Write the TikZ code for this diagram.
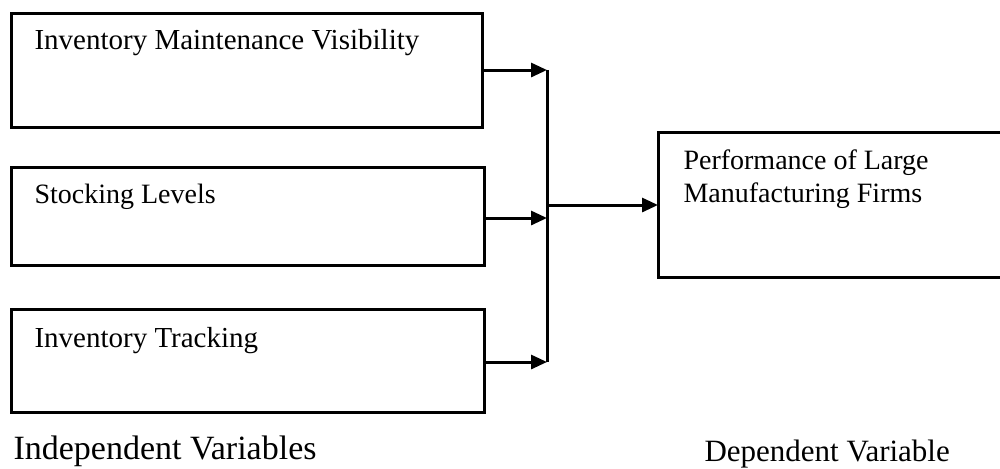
\documentclass[tikz,border=0pt]{standalone}
\usepackage{fontspec}
\setmainfont{Liberation Serif}
\usetikzlibrary{arrows.meta}
\begin{document}
\begin{tikzpicture}[x=0.5pt, y=-0.5pt, line width=1.5pt,
  varbox/.style={draw, rectangle, anchor=north west, inner sep=0pt, outer sep=0pt},
  boxtext/.style={anchor=base west, inner sep=0pt, align=left},
  link/.style={-{Triangle[length=8pt,width=7pt]}}]
\useasboundingbox (0,0) rectangle (1000,468);
\node[varbox, minimum width=235.5pt, minimum height=57pt] (imv) at (11,13){};
\node[varbox, minimum width=236.5pt, minimum height=49pt] (stl) at (11,167){};
\node[varbox, minimum width=236.5pt, minimum height=51.5pt] (ivt) at (11,309){};
\node[varbox, minimum width=176pt, minimum height=72.5pt] (pmf) at (658,132){};
\node[boxtext, font=\fontsize{14.5}{17}\selectfont] (timv) at (33,49){Inventory Maintenance Visibility};
\node[boxtext, font=\fontsize{14}{17}\selectfont] (tstl) at (33,203){Stocking Levels};
\node[boxtext, font=\fontsize{14.5}{17}\selectfont] (tivt) at (33,347){Inventory Tracking};
\node[boxtext, font=\fontsize{14}{16.5}\selectfont] (tpmf) at (682,202){Performance of Large\\Manufacturing Firms};
\node[boxtext, font=\fontsize{17}{20}\selectfont] (indep) at (12,459){Independent Variables};
\node[boxtext, font=\fontsize{15.5}{18}\selectfont] (dep) at (703,461){Dependent Variable};
\coordinate (j1) at (547,70);
\coordinate (j2) at (547,218);
\coordinate (j3) at (547,362);
\coordinate (j0) at (547,205);
\draw[link] (imv.east |- j1) -- (j1);
\draw[link] (stl.east |- j2) -- (j2);
\draw[link] (ivt.east |- j3) -- (j3);
\draw (j1) -- (j3);
\draw[link] (j0) -- (pmf.west |- j0);
\end{tikzpicture}
\end{document}
